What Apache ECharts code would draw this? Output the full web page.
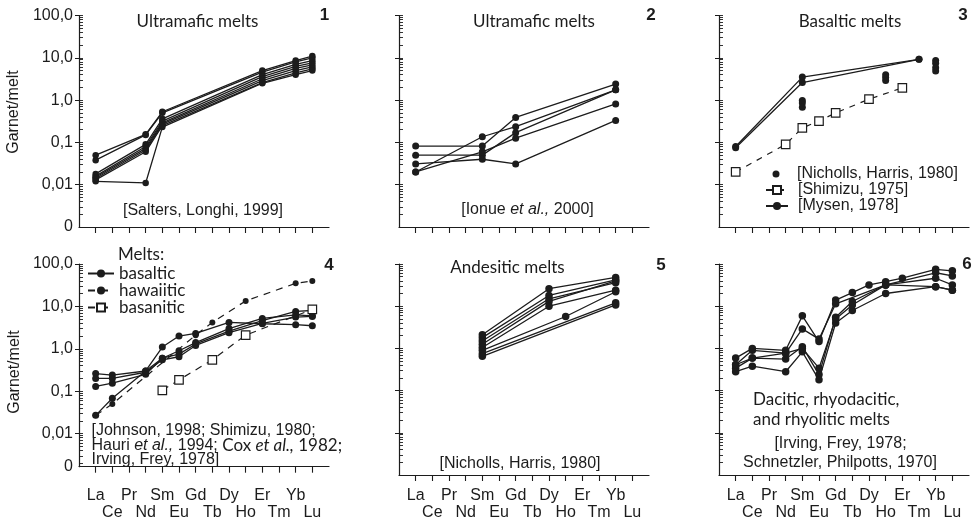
<!DOCTYPE html>
<html>
<head>
<meta charset="utf-8">
<script src="https://cdn.jsdelivr.net/npm/echarts@6/dist/echarts.min.js"></script>
<style>
  html, body { margin: 0; padding: 0; background: #fff; }
  #c { width: 979px; height: 522px; }
</style>
</head>
<body>
<div id="c"></div>
<script>
// Rare-earth elements along the x axis (Pm omitted)
const REE = ['La','Ce','Pr','Nd','Sm','Eu','Gd','Tb','Dy','Ho','Er','Tm','Yb','Lu'];
const _ = null;

// 1 — Ultramafic melts [Salters, Longhi, 1999]
const saltersLonghi = [
  [0.050,_,_,0.155,0.53,_,_,_,_,_,5.0,_,8.6,11.0],
  [0.038,_,_,0.150,0.50,_,_,_,_,_,4.6,_,8.0,10.0],
  [0.018,_,_,0.090,0.36,_,_,_,_,_,4.0,_,7.0,8.6],
  [0.016,_,_,0.080,0.32,_,_,_,_,_,3.6,_,6.3,7.6],
  [0.015,_,_,0.072,0.29,_,_,_,_,_,3.2,_,5.6,6.8],
  [0.014,_,_,0.066,0.27,_,_,_,_,_,2.9,_,5.0,6.1],
  [0.013,_,_,0.060,0.25,_,_,_,_,_,2.6,_,4.4,5.5],
  [0.012,_,_,0.011,0.23,_,_,_,_,_,2.5,_,4.0,5.0]
];

// 2 — Ultramafic melts [Ionue et al., 2000]
const ionue = [
  [0.082,_,_,_,0.082,_,0.39,_,_,_,_,_,2.4,_],
  [0.020,_,_,_,0.136,_,0.235,_,_,_,_,_,1.75,_],
  [0.050,_,_,_,0.050,_,0.17,_,_,_,_,_,1.75,_],
  [0.020,_,_,_,0.060,_,0.126,_,_,_,_,_,0.81,_],
  [0.031,_,_,_,0.040,_,0.031,_,_,_,_,_,0.33,_]
];

// 3 — Basaltic melts
const mysen1978 = [
  [0.080,_,_,_,3.5,_,_,_,_,_,_,9.2,_,_],
  [0.075,_,_,_,2.6,_,_,_,_,_,_,9.2,_,_]
];
const shimizu1975 = [0.020,_,_,0.090,0.22,0.32,0.50,_,1.05,_,1.95,_,_,_];
const nichollsHarrisBasalt = [
  ['Sm',0.98],['Sm',0.85],['Sm',0.68],
  ['Ho',4.0],['Ho',3.4],['Ho',2.9],
  ['Yb',8.6],['Yb',7.4],['Yb',5.8],['Yb',4.9]
];

// 4 — Basaltic, hawaiitic and basanitic melts
const basaltic = [
  [0.26,0.24,_,0.30,0.60,0.75,1.3,_,2.6,_,4.6,_,7.6,8.0],
  [0.20,0.20,_,0.28,0.55,0.65,1.2,_,2.4,_,4.0,_,5.6,5.8],
  [0.13,0.155,_,0.25,0.60,0.90,1.4,_,3.0,_,5.2,_,6.3,6.0],
  [0.027,0.068,_,0.30,1.10,2.0,2.3,_,4.2,_,3.9,_,3.7,3.5]
];
const hawaiitic = [0.027,0.050,_,_,_,_,2.1,4.2,_,13.5,_,_,35,40];
const basanitic = [_,_,_,_,0.105,0.185,_,0.55,_,2.1,_,_,_,8.5];

// 5 — Andesitic melts [Nicholls, Harris, 1980]
const andesitic = [
  [_,_,_,_,2.1,_,_,_,26,_,_,_,48,_],
  [_,_,_,_,1.8,_,_,_,18,_,_,_,42,_],
  [_,_,_,_,1.5,_,_,_,15,_,_,_,36,_],
  [_,_,_,_,1.25,_,_,_,13,_,_,_,40,_],
  [_,_,_,_,1.05,_,_,_,10,_,_,_,24,_],
  [_,_,_,_,0.90,_,_,_,_,5.7,_,_,22,_],
  [_,_,_,_,0.75,_,_,_,_,_,_,_,12,_],
  [_,_,_,_,0.65,_,_,_,_,_,_,_,10.7,_]
];

// 6 — Dacitic, rhyodacitic and rhyolitic melts
const silicic = [
  [0.59,1.00,_,0.90,5.9,1.45,14.0,21,32,38,46,_,75,69],
  [0.41,0.90,_,0.77,2.9,1.66,11.4,_,_,32,_,_,62,52],
  [0.34,0.59,_,0.56,1.10,0.24,5.5,12.9,_,32,_,_,46,32],
  [0.28,0.38,_,0.28,0.83,0.18,4.0,7.9,_,20,_,_,29,24],
  [0.41,0.59,_,0.77,1.00,0.34,5.0,10.7,_,32,_,_,29,24]
];

// Axis tick values
const yMajor = [0.01, 0.1, 1, 10, 100];
const yMajorText = { '100': '100,0', '10': '10,0', '1': '1,0', '0.1': '0,1', '0.01': '0,01' };
const xIdx = REE.map((_, i) => i);
const xUpper = xIdx.filter(i => i % 2 === 0);   // La, Pr, Sm, ...
const xLower = xIdx.filter(i => i % 2 === 1);   // Ce, Nd, Eu, ...

const INK = '#1c1c1c';
const SANS = '"Liberation Sans", Arial, sans-serif';
const HUM = 'Lato, "Open Sans", sans-serif';

const minorVals = [];
for (let e = -3; e < 2; e++) for (let m = 1; m < 10; m++) minorVals.push(+(m * Math.pow(10, e)).toPrecision(3));
minorVals.push(100);

// Panel frames: [left, top, height, yMin]
const frames = [
  [79, 15.5, 211.5, 0.001],
  [399, 15.5, 211.5, 0.001],
  [719, 15.5, 211.5, 0.001],
  [79, 264, 202.7, 0.00166],
  [399, 264, 211, 0.001],
  [719, 264, 211, 0.001]
];

const grid = [], xAxis = [], yAxis = [], xLowerRow = [];
const labelFont = { fontFamily: SANS, fontSize: 16, color: INK };
frames.forEach(([left, top, height, ymin], k) => {
  grid.push({ left, top, width: 250, height });
  const bottomRow = k >= 3;
  const m = k === 3 ? 21 : 13;
  xAxis.push({
    type: 'value', gridIndex: k, min: -1, max: 14, interval: 1, position: 'bottom',
    axisLine: { onZero: false, lineStyle: { color: INK, width: 1.2 } },
    splitLine: { show: false },
    axisTick: { customValues: xIdx, length: 6, lineStyle: { color: INK, width: 1.1 } },
    axisLabel: Object.assign({
      show: bottomRow, customValues: xUpper, showMinLabel: true, showMaxLabel: true,
      margin: m, formatter: v => REE[Math.round(v)]
    }, labelFont)
  });
  if (bottomRow) {
    // second label row (Ce, Nd, Eu, ...) sits one line lower
    xLowerRow.push({
      type: 'value', gridIndex: k, min: -1, max: 14, interval: 1, position: 'bottom',
      axisLine: { show: false, onZero: false }, axisTick: { show: false }, splitLine: { show: false },
      axisLabel: Object.assign({
        customValues: xLower, showMinLabel: true, showMaxLabel: true,
        margin: m + 17, formatter: v => REE[Math.round(v)]
      }, labelFont)
    });
  }
  const showLab = (k === 0 || k === 3);
  yAxis.push({
    type: 'log', logBase: 10, gridIndex: k, min: ymin, max: 100, position: 'left',
    axisLine: { onZero: false, lineStyle: { color: INK, width: 1.2 } },
    splitLine: { show: false }, minorTick: { show: false },
    axisTick: { customValues: yMajor, length: 4, lineStyle: { color: INK, width: 1 } },
    axisLabel: Object.assign({
      show: showLab, customValues: [ymin].concat(yMajor), margin: 6,
      showMinLabel: true, showMaxLabel: true,
      formatter: v => v < 0.005 ? '0' : yMajorText[String(+(+v).toPrecision(2))]
    }, labelFont)
  });
  yAxis.push({
    type: 'log', logBase: 10, gridIndex: k, min: ymin, max: 100, position: 'left', offset: 0,
    axisLine: { show: false, onZero: false }, splitLine: { show: false }, axisLabel: { show: false },
    axisTick: { inside: true, customValues: minorVals, length: 4, lineStyle: { color: INK, width: 0.9 } }
  });
});
xAxis.push(...xLowerRow);

function pairs(vals) {
  const out = [];
  vals.forEach((v, i) => { if (v != null) out.push([i, v]); });
  return out;
}

const dotLine = (k, vals, name, size) => ({
  type: 'line', name, xAxisIndex: k, yAxisIndex: k * 2, data: pairs(vals),
  symbol: 'circle', symbolSize: size || 7, showSymbol: true,
  lineStyle: { color: INK, width: 1.3 }, itemStyle: { color: INK },
  emphasis: { disabled: true }, z: 3
});

const series = [];
saltersLonghi.forEach(s => series.push(dotLine(0, s, 'sl', 6.5)));
ionue.forEach(s => series.push(dotLine(1, s, 'io', 7)));
mysen1978.forEach(s => series.push(dotLine(2, s, '[Mysen, 1978]', 7)));
series.push({
  type: 'line', name: '[Shimizu, 1975]', xAxisIndex: 2, yAxisIndex: 4, data: pairs(shimizu1975),
  symbol: 'rect', symbolSize: 8.5,
  lineStyle: { color: INK, width: 1.2, type: [6, 6] },
  itemStyle: { color: '#fff', borderColor: INK, borderWidth: 1.2 }, z: 3
});
series.push({
  type: 'scatter', name: '[Nicholls, Harris, 1980]', xAxisIndex: 2, yAxisIndex: 4,
  data: nichollsHarrisBasalt.map(([el, v]) => [REE.indexOf(el), v]),
  symbol: 'circle', symbolSize: 7, itemStyle: { color: INK, opacity: 1 }, z: 3
});
basaltic.forEach(s => series.push(dotLine(3, s, 'basaltic', 7)));
series.push({
  type: 'line', name: 'hawaiitic', xAxisIndex: 3, yAxisIndex: 6, data: pairs(hawaiitic),
  symbol: 'circle', symbolSize: 6,
  lineStyle: { color: INK, width: 1.2, type: [7, 6] }, itemStyle: { color: INK }, z: 3
});
series.push({
  type: 'line', name: 'basanitic', xAxisIndex: 3, yAxisIndex: 6, data: pairs(basanitic),
  symbol: 'rect', symbolSize: 8.5,
  lineStyle: { color: INK, width: 1.2, type: [7, 6] },
  itemStyle: { color: '#fff', borderColor: INK, borderWidth: 1.2 }, z: 3
});
andesitic.forEach(s => series.push(dotLine(4, s, 'an', 7.5)));
silicic.forEach(s => series.push(dotLine(5, s, 'si', 7.5)));

function txt(x, y, text, extra) {
  return {
    type: 'text', x, y, silent: true, z: 10,
    style: Object.assign({
      text, fill: INK, font: '16px ' + SANS,
      align: 'center', verticalAlign: 'middle',
      textAlign: 'center', textVerticalAlign: 'middle'
    }, extra || {})
  };
}
const humFont = '17px ' + HUM;
const numFont = 'bold 17px ' + SANS;
const italicRich = {
  a: { fontFamily: SANS, fontSize: 16, fill: INK },
  i: { fontFamily: SANS, fontSize: 16, fontStyle: 'italic', fill: INK },
  h: { fontFamily: HUM, fontSize: 17, fill: INK },
  hi: { fontFamily: HUM, fontSize: 17, fontStyle: 'italic', fill: INK }
};

const graphic = [
  txt(13.5, 112, 'Garnet/melt', { }),
  txt(14.5, 372, 'Garnet/melt', { }),
  txt(197.5, 21.5, 'Ultramafic melts', { font: humFont }),
  txt(534, 21.5, 'Ultramafic melts', { font: humFont }),
  txt(850, 21.5, 'Basaltic melts', { font: humFont }),
  txt(507.5, 268, 'Andesitic melts', { font: humFont }),
  txt(753, 400, 'Dacitic, rhyodacitic,', { font: humFont, align: 'left', textAlign: 'left' }),
  txt(753, 420, 'and rhyolitic melts', { font: humFont, align: 'left', textAlign: 'left' }),
  txt(203, 210.5, '[Salters, Longhi, 1999]'),
  txt(527.5, 210, '{a|[Ionue }{i|et al.,}{a| 2000]}', { rich: italicRich }),
  txt(520, 464, '[Nicholls, Harris, 1980]'),
  txt(840.5, 444, '[Irving, Frey, 1978;'),
  txt(840, 463, 'Schnetzler, Philpotts, 1970]'),
  txt(91.5, 431, '[Johnson, 1998; Shimizu, 1980;', { align: 'left', textAlign: 'left' }),
  txt(91.5, 446, '{a|Hauri }{i|et al.,}{a| 1994; }{h|Cox }{hi|et al.,}{h| 1982;}', { rich: italicRich, align: 'left', textAlign: 'left' }),
  txt(91.5, 460, 'Irving, Frey, 1978]', { align: 'left', textAlign: 'left' }),
  txt(118, 255, 'Melts:', { font: humFont, align: 'left', textAlign: 'left' }),
  txt(324.5, 15, '1', { font: numFont }),
  txt(651, 15, '2', { font: numFont }),
  txt(963, 15, '3', { font: numFont }),
  txt(329, 265, '4', { font: numFont }),
  txt(661, 265, '5', { font: numFont }),
  txt(967, 264, '6', { font: numFont })
];
graphic[0].rotation = Math.PI / 2;
graphic[1].rotation = Math.PI / 2;

const legendText = { fontFamily: SANS, fontSize: 16, color: INK, lineHeight: 15, padding: [0, 0, 0, 5] };
const legend = [
  {
    // lone dot entry, kept small like the data dots
    data: ['[Nicholls, Harris, 1980]'],
    orient: 'vertical', left: 772.5, top: 166, padding: 0,
    itemWidth: 22, itemHeight: 7, itemGap: 0,
    selectedMode: false, textStyle: legendText
  },
  {
    data: ['[Shimizu, 1975]', '[Mysen, 1978]'],
    orient: 'vertical', left: 765, top: 182, padding: 0,
    itemWidth: 22, itemHeight: 10, itemGap: 0,
    selectedMode: false, textStyle: legendText
  },
  {
    data: ['basaltic', 'hawaiitic', 'basanitic'],
    orient: 'vertical', left: 87, top: 265, padding: 0,
    itemWidth: 26, itemHeight: 10, itemGap: 0,
    selectedMode: false,
    textStyle: { fontFamily: HUM, fontSize: 17, color: INK, lineHeight: 15 }
  }
];

const chart = echarts.init(document.getElementById('c'));
chart.setOption({
  animation: false,
  backgroundColor: '#fff',
  grid, xAxis, yAxis, series, legend, graphic
});
</script>
</body>
</html>
